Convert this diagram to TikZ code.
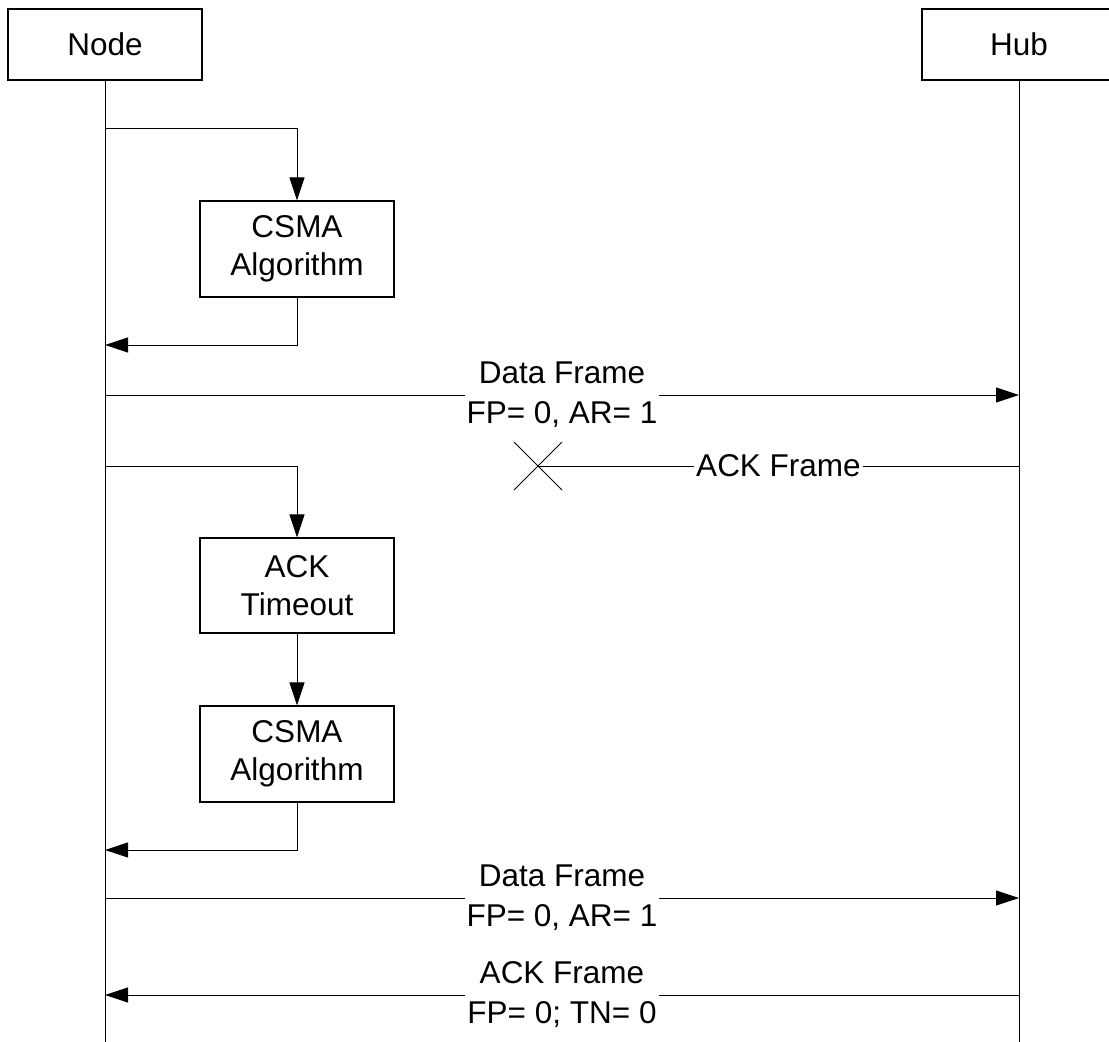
\documentclass[tikz,border=0pt]{standalone}
\usepackage{fontspec}
\setmainfont{Liberation Sans}
\usetikzlibrary{arrows.meta}
\begin{document}
\begin{tikzpicture}[x=1pt,y=-1pt,
  every node/.style={font=\fontsize{31.5}{38}\selectfont},
  box/.style={draw, line width=1.1pt, minimum width=194pt, align=center, inner sep=0pt},
  life/.style={line width=1pt},
  msg/.style={line width=1pt, -{Triangle[length=23pt,width=15pt]}},
  lbl/.style={fill=white, inner sep=2pt, align=center, font=\fontsize{31.5}{40}\selectfont}]
\path[use as bounding box] (0,0) rectangle (1109,1042);
\clip (0,0) rectangle (1109,1042);

% participants
\node[box, minimum height=71pt] (node) at (105,44.5) {Node};
\node[box, minimum height=71pt] (hub) at (1019,44.5) {Hub};
\node[box, minimum height=96pt] (csma1) at (297,249) {CSMA\\Algorithm};
\node[box, minimum height=95pt] (tout) at (297,585.5) {ACK\\Timeout};
\node[box, minimum height=96pt] (csma2) at (297,754) {CSMA\\Algorithm};

% lifelines
\coordinate (nodeEnd) at (105,1042);
\coordinate (hubEnd) at (1019,1042);
\draw[life] (node.south) -- (nodeEnd);
\draw[life] (hub.south) -- (hubEnd);

% first CSMA loop
\coordinate (b1) at (105,128);
\coordinate (r1) at (105,345);
\draw[msg] (b1) -| (csma1.north);
\draw[msg] (csma1.south) |- (r1);

% first data frame
\coordinate (d1s) at (105,395);
\coordinate (d1e) at (1019,395);
\draw[msg] (d1s) -- node[lbl] {Data Frame\\FP= 0, AR= 1} (d1e);

% lost ACK
\coordinate (a1s) at (1019,466);
\coordinate (x1) at (538,466);
\draw[life] (a1s) -- node[lbl] {ACK Frame} (x1);
\draw[life] (x1) ++(-24,-24) -- ++(48,48);
\draw[life] (x1) ++(-24,24) -- ++(48,-48);

% timeout and retry
\coordinate (b2) at (105,466);
\coordinate (r2) at (105,850);
\draw[msg] (b2) -| (tout.north);
\draw[msg] (tout.south) -- (csma2.north);
\draw[msg] (csma2.south) |- (r2);

% second data frame
\coordinate (d2s) at (105,898);
\coordinate (d2e) at (1019,898);
\draw[msg] (d2s) -- node[lbl] {Data Frame\\FP= 0, AR= 1} (d2e);

% ACK
\coordinate (a2s) at (1019,995);
\coordinate (a2e) at (105,995);
\draw[msg] (a2s) -- node[lbl] {ACK Frame\\FP= 0; TN= 0} (a2e);
\end{tikzpicture}
\end{document}
